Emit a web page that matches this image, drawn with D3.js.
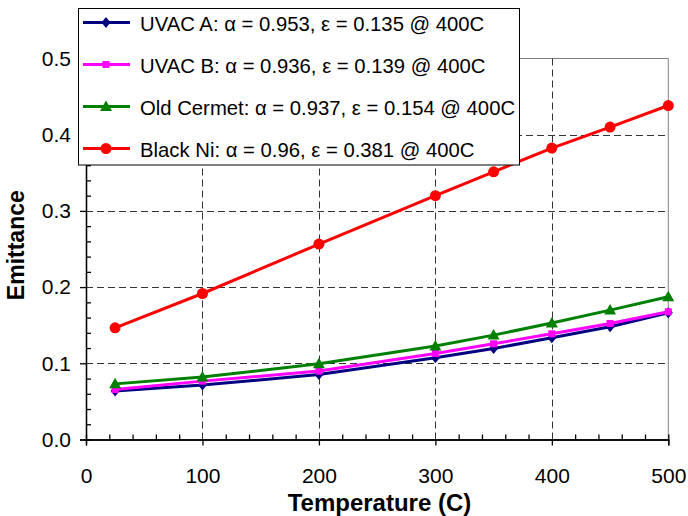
<!DOCTYPE html>
<html><head><meta charset="utf-8">
<script src="https://cdn.jsdelivr.net/npm/d3@7"></script>
<style>body{margin:0;background:#fff}svg{display:block}text{font-family:"Liberation Sans",Arial,sans-serif}</style>
</head><body><div id="chart"></div>
<script>
const temperatures = [25, 100, 200, 300, 350, 400, 450, 500];
const uvacA = [0.0635, 0.0714, 0.0853, 0.1072, 0.1194, 0.1335, 0.148, 0.1663];
const uvacB = [0.0656, 0.0766, 0.0898, 0.1129, 0.1256, 0.1387, 0.1522, 0.1676];
const oldCermet = [0.073, 0.0819, 0.0993, 0.1226, 0.137, 0.153, 0.1698, 0.1873];
const blackNi = [0.1466, 0.1916, 0.2564, 0.320, 0.3513, 0.3824, 0.41, 0.4383];
const seriesNames = ["UVAC A: α = 0.953, ε = 0.135 @ 400C", "UVAC B: α = 0.936, ε = 0.139 @ 400C", "Old Cermet: α = 0.937, ε = 0.154 @ 400C", "Black Ni: α = 0.96, ε = 0.381 @ 400C"];
const xTicks = [0, 100, 200, 300, 400, 500];
const yTicks = [0.0, 0.1, 0.2, 0.3, 0.4, 0.5];

const W = 688, H = 516;
const svg = d3.select("#chart").append("svg").attr("width", W).attr("height", H);
const x = d3.scaleLinear().domain([0, 500]).range([86, 668.3]);
const y = d3.scaleLinear().domain([0, 0.5]).range([439.5, 58.5]);

const series = [
  {name: seriesNames[0], values: uvacA, color: "#000080", marker: "diamond"},
  {name: seriesNames[1], values: uvacB, color: "#ff00ff", marker: "square"},
  {name: seriesNames[2], values: oldCermet, color: "#008000", marker: "triangle"},
  {name: seriesNames[3], values: blackNi, color: "#ff0000", marker: "circle"}
];

// plot border (top/right)
svg.append("path").attr("d", `M${x(0)},${y(0.5)}H${x(500)}V${y(0)}`).attr("fill","none").attr("stroke","#808080").attr("stroke-width",1);

// gridlines
const g = svg.append("g");
g.selectAll(".vg").data(xTicks.filter(d => d > 0 && d < 500)).join("line")
  .attr("x1", d => Math.round(x(d)) + 0.5).attr("x2", d => Math.round(x(d)) + 0.5)
  .attr("y1", y(0)).attr("y2", y(0.5))
  .attr("stroke", "#333").attr("stroke-width", 1).attr("stroke-dasharray", "7,4");
g.selectAll(".hg").data(yTicks.filter(d => d > 0 && d < 0.5)).join("line")
  .attr("y1", d => Math.round(y(d)) + 0.5).attr("y2", d => Math.round(y(d)) + 0.5)
  .attr("x1", x(0)).attr("x2", x(500))
  .attr("stroke", "#333").attr("stroke-width", 1).attr("stroke-dasharray", "7,4");

// axes
const xAxis = svg.append("g").attr("transform", `translate(0,${y(0)})`);
xAxis.call(d3.axisBottom(x).tickValues(xTicks).tickSize(6).tickPadding(16).tickFormat(d3.format("d")));
xAxis.selectAll(".tick text").attr("y", 43.5).attr("dy", 0);
const xMinor = svg.append("g").attr("transform", `translate(0,${y(0)})`);
xMinor.call(d3.axisTop(x).tickValues(d3.range(0, 501, 20).filter(d => d % 100 !== 0)).tickSize(5).tickFormat(""));
const yAxis = svg.append("g").attr("transform", `translate(${x(0)},0)`);
yAxis.call(d3.axisLeft(y).tickValues(yTicks).tickSize(6).tickPadding(9).tickFormat(d3.format(".1f")));
const yMinor = svg.append("g").attr("transform", `translate(${x(0)},0)`);
yMinor.call(d3.axisRight(y).tickValues(d3.range(0.02, 0.5, 0.02).filter((d, i) => (i + 1) % 5 !== 0)).tickSize(5).tickFormat(""));
[xAxis, xMinor, yAxis, yMinor].forEach(a => {
  a.select(".domain").attr("stroke", "#000").attr("stroke-width", 1.3);
  a.selectAll(".tick line").attr("stroke", "#000").attr("stroke-width", 1.3);
  a.selectAll("text").attr("font-size", 21).attr("fill", "#000").style("font-family", "'Liberation Sans', Arial, sans-serif");
});

// axis titles
svg.append("text").attr("x", 379.5).attr("y", 511).attr("text-anchor", "middle")
  .attr("font-size", 24).attr("font-weight", "bold").text("Temperature (C)");
svg.append("text").attr("transform", `translate(24,${y(0.255)}) rotate(-90)`).attr("text-anchor", "middle")
  .attr("font-size", 23).attr("font-weight", "bold").text("Emittance");

function drawMarker(sel, type, color) {
  if (type === "circle") sel.append("circle").attr("r", 5.5).attr("fill", color);
  else if (type === "square") sel.append("rect").attr("x", -3.5).attr("y", -3.5).attr("width", 7).attr("height", 7).attr("fill", color);
  else if (type === "diamond") sel.append("path").attr("d", "M0,-5.5L4.5,0L0,5.5L-4.5,0Z").attr("fill", color);
  else if (type === "triangle") sel.append("path").attr("d", "M0,-6L6,4.5L-6,4.5Z").attr("fill", color);
}

const line = d3.line().x(d => x(d[0])).y(d => y(d[1]));
series.forEach(s => {
  const pts = temperatures.map((t, i) => [t, s.values[i]]);
  svg.append("path").datum(pts).attr("d", line).attr("fill", "none").attr("stroke", s.color).attr("stroke-width", 3);
  pts.forEach(p => {
    const m = svg.append("g").attr("transform", `translate(${x(p[0])},${y(p[1])})`);
    drawMarker(m, s.marker, s.color);
  });
});

// legend
const lg = svg.append("g");
lg.append("rect").attr("x", 78.5).attr("y", 8.5).attr("width", 441).attr("height", 156.5)
  .attr("fill", "#fff").attr("stroke", "#000").attr("stroke-width", 1);
series.forEach((s, i) => {
  const cy = 22.5 + i * 42;
  lg.append("line").attr("x1", 83).attr("x2", 130).attr("y1", cy).attr("y2", cy).attr("stroke", s.color).attr("stroke-width", 3);
  const m = lg.append("g").attr("transform", `translate(106,${cy})`);
  drawMarker(m, s.marker, s.color);
  lg.append("text").attr("x", 140).attr("y", cy + 8).attr("font-size", 20.3).attr("fill", "#000").text(s.name);
});
</script></body></html>
